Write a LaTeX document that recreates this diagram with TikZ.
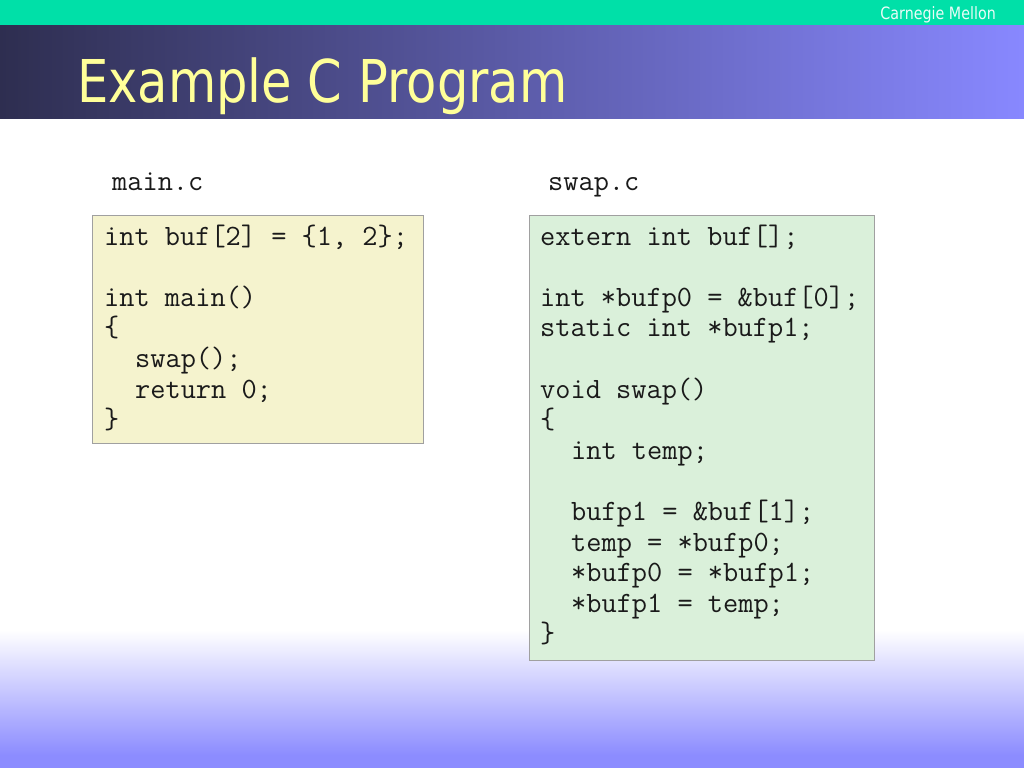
\documentclass[tikz,border=0pt]{standalone}
\usepackage{fontspec}
\newfontfamily\titlefont[FakeStretch=0.84]{DejaVu Sans}
\definecolor{topgreen}{HTML}{00E0A8}
\definecolor{banddark}{HTML}{2E2E50}
\definecolor{bandlight}{HTML}{8888FF}
\definecolor{titleyellow}{HTML}{FFFF99}
\definecolor{botblue}{HTML}{8C8CFF}
\definecolor{mainfill}{HTML}{F5F3CE}
\definecolor{swapfill}{HTML}{DAF0DA}
\definecolor{boxline}{HTML}{A0A0A0}
\definecolor{codecol}{HTML}{1A1A1A}
\tikzset{
  code/.style={font=\ttfamily\fontsize{29.5pt}{30.6pt}\selectfont, text=codecol, anchor=base west, inner sep=0pt},
  codebox/.style={draw=boxline, line width=0.8pt, anchor=north west, inner sep=0pt},
}
\begin{document}
\begin{tikzpicture}[x=1pt,y=-1pt]
\useasboundingbox (0,0) rectangle (1024,768);
% background
\fill[white] (0,0) rectangle (1024,768);
\fill[topgreen] (0,0) rectangle (1024,25.5);
\shade[left color=banddark, right color=bandlight] (0,25.5) rectangle (1024,119);
\fill[white] (0,119) rectangle (1024,630);
\shade[top color=white, bottom color=botblue] (0,630) rectangle (1024,755);
\fill[botblue] (0,755) rectangle (1024,768);
% header texts
\node[anchor=base east, inner sep=0pt, text=white!92!topgreen, font=\titlefont\fontsize{17pt}{18pt}\selectfont] (cmu) at (996,19.5) {Carnegie Mellon};
\node[anchor=base west, inner sep=0pt, text=titleyellow, font=\titlefont\fontsize{59pt}{66pt}\selectfont] (title) at (77,102) {Example C Program};
% file labels
\node[code] (mainlabel) at (112,190) {main.c};
\node[code] (swaplabel) at (548,190) {swap.c};
% boxes
\node[codebox, fill=mainfill, minimum width=331pt, minimum height=228pt] (mainbox) at (92,215) {};
\node[codebox, fill=swapfill, minimum width=345pt, minimum height=445pt] (swapbox) at (529,215) {};
% main.c code
\node[code] (m1) at (104,245.0) {int buf[2] = \{1, 2\};};
\node[code] (m2) at (104,306.2) {int main()};
\node[code] (m3) at (104,336.8) {\{};
\node[code] (m4) at (135,367.4) {swap();};
\node[code] (m5) at (135,398.0) {return 0;};
\node[code] (m6) at (104,428.6) {\}};
% swap.c code
\node[code] (s1) at (540,245.0) {extern int buf[];};
\node[code] (s2) at (540,306.2) {int *bufp0 = \&buf[0];};
\node[code] (s3) at (540,336.8) {static int *bufp1;};
\node[code] (s4) at (540,398.0) {void swap()};
\node[code] (s5) at (540,428.6) {\{};
\node[code] (s6) at (571,459.2) {int temp;};
\node[code] (s7) at (571,520.4) {bufp1 = \&buf[1];};
\node[code] (s8) at (571,551.0) {temp = *bufp0;};
\node[code] (s9) at (571,581.6) {*bufp0 = *bufp1;};
\node[code] (s10) at (571,612.2) {*bufp1 = temp;};
\node[code] (s11) at (540,642.8) {\}};
\end{tikzpicture}
\end{document}
